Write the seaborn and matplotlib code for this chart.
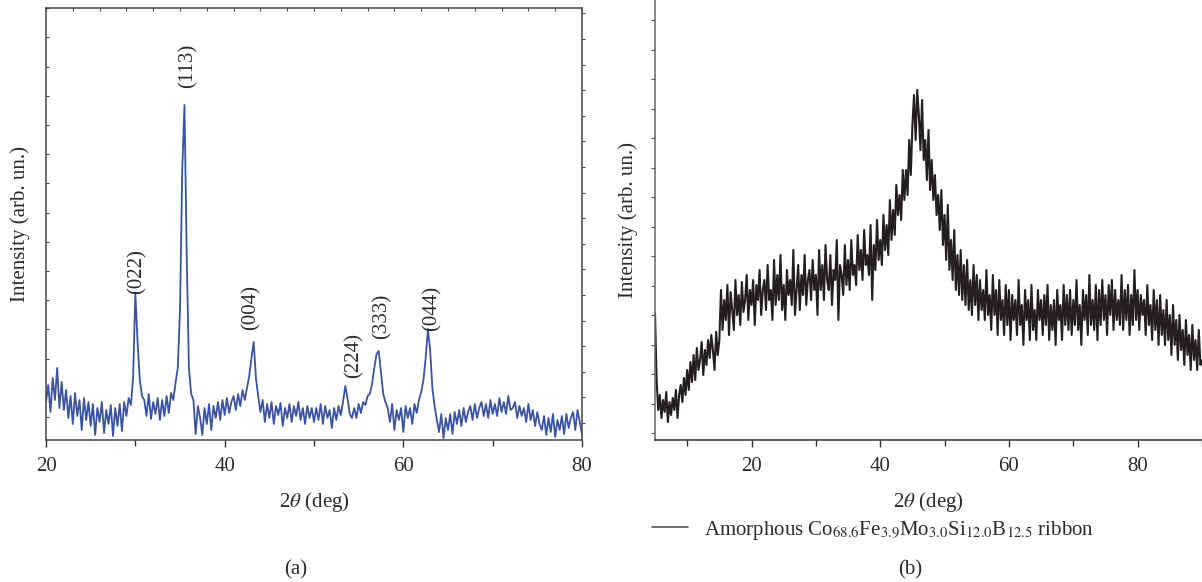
import numpy as np
import pandas as pd
import matplotlib
matplotlib.use("Agg")
import matplotlib.pyplot as plt
import seaborn as sns
from matplotlib.ticker import FixedLocator

# ---------------- data ----------------
# Panel (a): XRD of the crystalline sample, 2theta from 20 to 80 deg, step 0.25 deg
scan_a_start, scan_a_stop = 20.0, 80.0
intensity_a = [
    38, 55, 28, 62, 40, 72, 32, 58, 30,
    50, 22, 44, 16, 47, 24, 40, 10, 42, 20, 38, 14,
    36, 5, 32, 18, 38, 7, 30, 16, 35, 4, 32, 14,
    36, 9, 38, 24, 42, 35,
    62, 147, 98, 60, 44,
    40, 24, 46, 21, 38, 26, 42, 20, 40, 24, 44, 27, 47,
    40, 57, 72, 130, 270, 335, 185, 72, 46,
    40, 6, 34, 22, 5, 32, 16, 36, 10, 34, 22,
    38, 20, 40, 25, 42, 27, 38, 44, 30, 46, 34, 50, 40,
    52, 64, 82, 98, 62, 44,
    28, 40, 18, 36, 22, 38, 16, 34, 25, 37, 14, 32, 22, 36, 18, 34, 24, 38, 20, 32, 16, 34, 22, 32, 18,
    32, 20, 36, 16, 34, 22, 30, 12, 32, 20, 34, 25, 38,
    54, 42, 26, 22,
    32, 22, 36, 27, 38, 35, 44, 46, 56,
    72, 86, 89, 67, 46, 38,
    32, 18, 36, 10, 30, 20, 32, 8, 34, 22, 32, 16, 36, 27, 40, 48,
    60, 82, 111, 90, 52, 34,
    20, 8, 26, 2, 22, 10, 26, 6, 28, 16,
    30, 14, 32, 18, 28, 34, 20, 36, 22, 32, 38, 24, 36, 22, 40, 26, 36, 24, 42, 28, 38, 26, 44, 30,
    32, 38, 22, 34, 24, 32, 18, 36, 20, 30, 14, 28, 16, 10, 24, 5,
    22, 8, 26, 3, 20, 10, 24, 6, 26, 12, 22, 28, 10, 30, 18, 6,
]
peak_labels = ["(022)", "(113)", "(004)", "(224)", "(333)", "(044)"]
peak_label_x = [30.2, 35.9, 42.95, 54.5, 57.6, 63.2]
peak_label_y = [168, 374, 132, 85, 124, 132]

# Panel (b): amorphous ribbon, 2theta from 5 to 90 deg, step 0.25 deg
scan_b_start, scan_b_stop = 5.0, 90.0
intensity_b = [
    127, 60, 30, 45,   22, 40, 28, 48,   18, 38, 25, 42,   30, 50, 22, 45,
    55, 38, 62, 45,    70, 50, 78, 58,   85, 60, 92, 70,   80, 98, 65, 90,
    75, 100, 82, 105,  90, 70, 108, 85,  100, 150, 110, 140, 120, 155, 105, 148,
    130, 110, 160, 125, 145, 115, 158, 128, 140, 165, 120, 150, 135, 160, 115, 155,
    140, 170, 125, 150, 160, 130, 175, 140, 150, 120, 180, 135, 165, 140, 185, 130,
    155, 120, 170, 145, 160, 135, 190, 125, 150, 175, 130, 165, 145, 185, 135, 160,
    170, 140, 180, 150, 165, 125, 190, 150, 175, 140, 195, 160, 150, 185, 135, 170,
    160, 200, 120, 175, 165, 145, 195, 155, 180, 150, 200, 165, 175, 155, 205, 170,
    190, 160, 210, 175, 185, 165, 215, 140, 195, 170, 220, 180, 200, 175, 225, 190,
    215, 185, 240, 200, 230, 205, 255, 225, 245, 220, 270, 240, 270, 245, 300, 265,
    315, 345, 300, 350, 325, 290, 340, 280, 300, 260, 310, 250, 280, 240, 265, 225,
    245, 210, 250, 195, 225, 180, 235, 170, 200, 160, 210, 150, 185, 145, 190, 140,
    175, 135, 180, 130, 160, 125, 175, 135, 165, 120, 160, 130, 150, 120, 170, 125,
    145, 110, 165, 125, 150, 105, 160, 120, 140, 105, 155, 115, 150, 100, 145, 120,
    140, 105, 160, 115, 135, 95, 150, 120, 140, 100, 155, 110, 130, 100, 150, 120,
    140, 105, 145, 115, 155, 100, 135, 110, 140, 95, 150, 120, 135, 100, 155, 115,
    145, 110, 150, 105, 140, 115, 160, 110, 135, 95, 150, 120, 145, 105, 165, 115,
    140, 110, 155, 100, 150, 115, 160, 120, 145, 105, 155, 125, 160, 110, 150, 120,
    140, 115, 165, 110, 150, 120, 155, 105, 145, 115, 170, 120, 150, 110, 145, 125,
    140, 105, 155, 115, 135, 100, 150, 110, 140, 95, 145, 105, 130, 95, 140, 100,
    125, 85, 135, 95,  120, 80, 125, 90, 110, 75, 120, 85, 105, 70, 115, 80,
    100, 70, 110, 75,
    80,
]
legend_label = (r"Amorphous Co$_{68.6}$Fe$_{3.9}$Mo$_{3.0}$"
                r"Si$_{12.0}$B$_{12.5}$ ribbon")

df_a = pd.DataFrame({
    "two_theta": np.linspace(scan_a_start, scan_a_stop, len(intensity_a)),
    "intensity": intensity_a,
})
df_b = pd.DataFrame({
    "two_theta": np.linspace(scan_b_start, scan_b_stop, len(intensity_b)),
    "intensity": intensity_b,
})

# ---------------- style ----------------
sns.set_theme(style="ticks")
plt.rcParams["font.family"] = ["Liberation Serif", "DejaVu Serif"]
plt.rcParams["mathtext.fontset"] = "stix"

FS = 15
TXT = "#2b2b2b"
W, H = 1202, 582
fig = plt.figure(figsize=(W / 100, H / 100), dpi=100)
axA = fig.add_axes([46 / W, 142 / H, 536 / W, 432 / H])
axB = fig.add_axes([655 / W, 142 / H, 547 / W, 440 / H])

# ---------------- panel (a) ----------------
sns.lineplot(data=df_a, x="two_theta", y="intensity", ax=axA,
             color="#3a53a4", linewidth=1.3, estimator=None)
axA.set_xlim(20, 80)
axA.set_ylim(0, 432)
axA.xaxis.set_major_locator(FixedLocator([20, 40, 60, 80]))
axA.xaxis.set_minor_locator(FixedLocator([30, 50, 70]))
axA.yaxis.set_major_locator(FixedLocator(list(np.arange(23, 432, 29.2))))
axA.set_yticklabels([])
axA.tick_params(axis="x", which="major", direction="out", length=5, width=1,
                pad=7, labelsize=FS, colors="#333", labelcolor=TXT)
axA.tick_params(axis="x", which="minor", direction="out", length=4, width=1,
                colors="#333")
axA.tick_params(axis="y", which="major", direction="in", length=2.5, width=0.8,
                colors="#444")
for s in axA.spines.values():
    s.set_color("#444")
    s.set_linewidth(1.1)
secA_top = axA.secondary_xaxis("top")
secA_top.xaxis.set_major_locator(FixedLocator(list(range(20, 81, 3))))
secA_top.set_xticklabels([])
secA_top.tick_params(direction="in", length=2.5, width=0.8, colors="#444")
secA_top.spines["top"].set_visible(False)
secA_right = axA.secondary_yaxis("right")
secA_right.yaxis.set_major_locator(FixedLocator(list(np.arange(17, 432, 25.6))))
secA_right.set_yticklabels([])
secA_right.tick_params(direction="out", length=2.5, width=0.8, colors="#444")
secA_right.spines["right"].set_visible(False)

axA.set_xlabel(r"2$\theta$ (deg)", fontsize=FS, color=TXT, labelpad=10)
axA.set_ylabel("Intensity (arb. un.)", fontsize=FS, color=TXT, labelpad=8)
for lab, px, py in zip(peak_labels, peak_label_x, peak_label_y):
    axA.text(px, py, lab, rotation=90, ha="center", va="center",
             fontsize=FS, color=TXT)

# ---------------- panel (b) ----------------
sns.lineplot(data=df_b, x="two_theta", y="intensity", ax=axB,
             color="#231f20", linewidth=1.5, estimator=None, label=legend_label)
axB.set_xlim(5, 90)
axB.set_ylim(0, 440)
axB.xaxis.set_major_locator(FixedLocator([20, 40, 60, 80]))
axB.xaxis.set_minor_locator(FixedLocator([10, 30, 50, 70, 90]))
axB.yaxis.set_major_locator(FixedLocator(list(np.arange(7, 440, 29.5))))
axB.set_yticklabels([])
axB.tick_params(axis="x", which="major", direction="out", length=5, width=1,
                pad=7, labelsize=FS, colors="#333", labelcolor=TXT)
axB.tick_params(axis="x", which="minor", direction="out", length=4, width=1,
                colors="#333")
axB.tick_params(axis="y", which="major", direction="out", length=3, width=0.8,
                colors="#555")
axB.spines["top"].set_visible(False)
axB.spines["right"].set_visible(False)
axB.spines["left"].set_color("#666")
axB.spines["left"].set_linewidth(1.1)
axB.spines["bottom"].set_color("#333")
axB.spines["bottom"].set_linewidth(1.1)
axB.set_xlabel(r"2$\theta$ (deg)", fontsize=FS, color=TXT, labelpad=10)
axB.set_ylabel("Intensity (arb. un.)", fontsize=FS, color=TXT, labelpad=6)

leg = axB.legend(loc="center left", bbox_to_anchor=(652 / W, 52 / H),
                 bbox_transform=fig.transFigure, frameon=False, fontsize=FS,
                 handlelength=1.75, handletextpad=0.75, borderpad=0,
                 borderaxespad=0)
for t in leg.get_texts():
    t.set_color(TXT)
for h in leg.get_lines():
    h.set_color("#555")
    h.set_linewidth(1.2)

fig.text(296 / W, 12 / H, "(a)", ha="center", va="center", fontsize=FS, color=TXT)
fig.text(910 / W, 12 / H, "(b)", ha="center", va="center", fontsize=FS, color=TXT)

fig.savefig("out.png", dpi=100)
